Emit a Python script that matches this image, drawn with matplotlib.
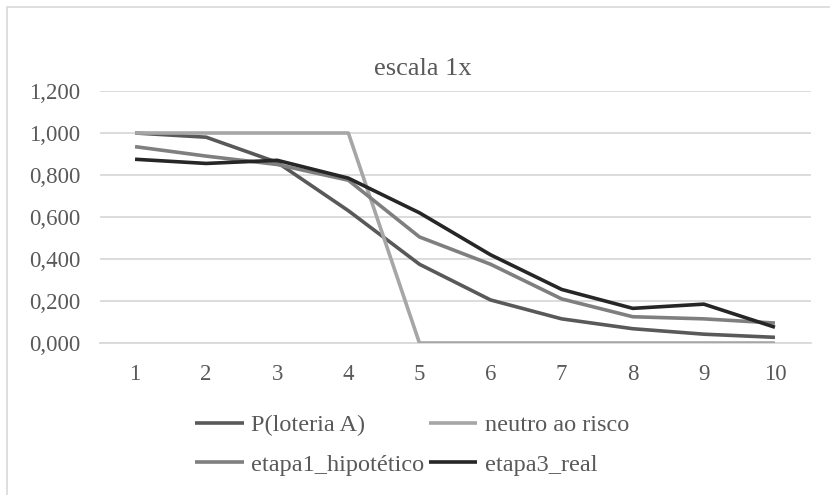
import matplotlib
matplotlib.use("Agg")

import matplotlib.pyplot as plt
from matplotlib.patches import Rectangle
from matplotlib.ticker import FuncFormatter

# series values per decision row 1..10
rows = [1, 2, 3, 4, 5, 6, 7, 8, 9, 10]
p_loteria_a = [1.000, 0.980, 0.860, 0.630, 0.375, 0.205, 0.115, 0.068, 0.042, 0.027]
neutro_risco = [1.0, 1.0, 1.0, 1.0, 0.0, 0.0, 0.0, 0.0, 0.0, 0.0]
etapa1_hipotetico = [0.935, 0.890, 0.850, 0.775, 0.505, 0.375, 0.210, 0.125, 0.115, 0.095]
etapa3_real = [0.875, 0.855, 0.870, 0.785, 0.620, 0.420, 0.255, 0.165, 0.185, 0.075]

series = [
    ("P(loteria A)", p_loteria_a, "#595959"),
    ("neutro ao risco", neutro_risco, "#A6A6A6"),
    ("etapa1_hipotético", etapa1_hipotetico, "#7F7F7F"),
    ("etapa3_real", etapa3_real, "#262626"),
]
y_ticks = [0.0, 0.2, 0.4, 0.6, 0.8, 1.0, 1.2]

plt.rcParams["font.family"] = ["Liberation Serif", "DejaVu Serif"]
text_grey = "#595959"
grid_grey = "#D9D9D9"

W, H = 830, 495
fig = plt.figure(figsize=(W / 100, H / 100), dpi=100)

# outer chart frame (runs past the right and bottom edges)
fig.patches.append(Rectangle((7 / W, -0.2), 2.0, (H - 7) / H + 0.2,
                             transform=fig.transFigure, fill=False,
                             edgecolor=grid_grey, linewidth=1.2))

ax = fig.add_axes([99.5 / W, (H - 343) / H, 711 / W, 252 / H])

lines = {}
for label, vals, color in series:
    lines[label], = ax.plot(rows, vals, color=color, linewidth=2.6, label=label,
                            solid_capstyle="butt", zorder=3)

ax.set_xlim(0.5, 10.5)
ax.set_ylim(0, 1.2)
ax.set_xticks(rows)
ax.set_yticks(y_ticks)
ax.yaxis.set_major_formatter(FuncFormatter(lambda v, _: f"{v:.3f}".replace(".", ",")))
ax.grid(axis="y", color=grid_grey, linewidth=1.3, zorder=0)
for side in ("top", "right", "left"):
    ax.spines[side].set_visible(False)
ax.spines["bottom"].set_color(grid_grey)
ax.spines["bottom"].set_linewidth(1.3)
ax.tick_params(axis="both", length=0, labelsize=16.5, colors=text_grey)
ax.tick_params(axis="y", pad=14)
ax.tick_params(axis="x", pad=15)

fig.text(423 / W, 1 - 69 / H, "escala 1x", ha="center", va="center",
         fontsize=19, color=text_grey)

# legend is filled column by column, so order entries to read row-wise
order = ["P(loteria A)", "etapa1_hipotético", "neutro ao risco", "etapa3_real"]
leg = fig.legend([lines[k] for k in order], order,
                 loc="center", bbox_to_anchor=(412 / W, 1 - 445 / H),
                 ncol=2, frameon=False, fontsize=17.5, handlelength=2.0,
                 handletextpad=0.3, columnspacing=0.2, labelspacing=0.72,
                 borderpad=0)
for t in leg.get_texts():
    t.set_color(text_grey)

fig.savefig("out.png", dpi=100)
